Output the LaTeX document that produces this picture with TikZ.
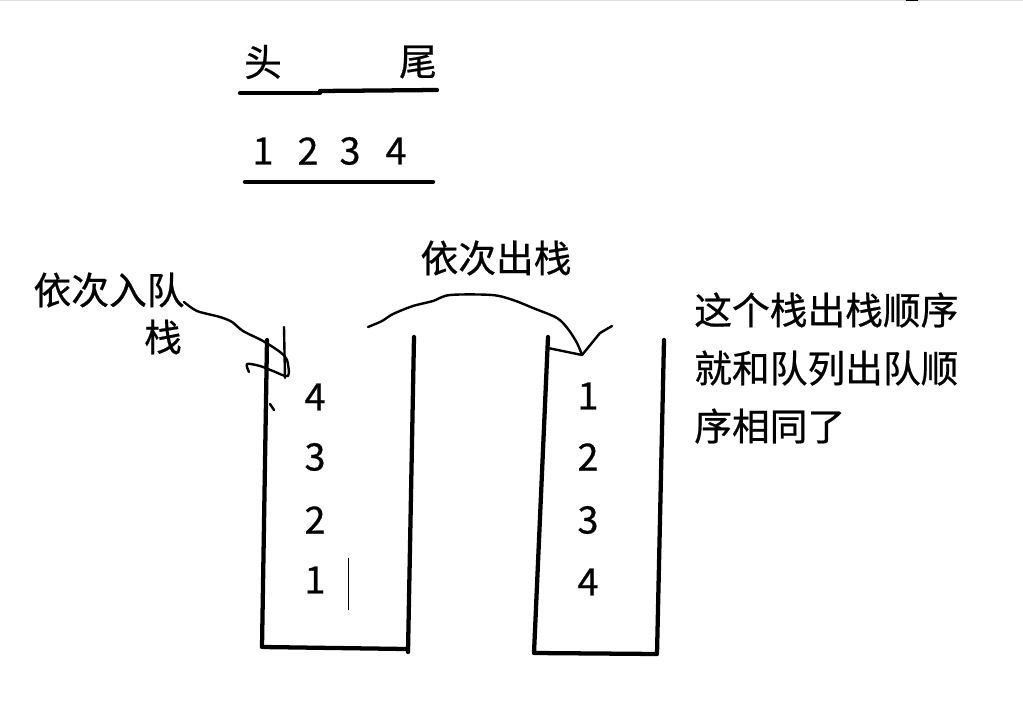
\documentclass[tikz,border=0pt]{standalone}
\usepackage{fontspec}
\setmainfont{Noto Sans CJK SC}[FakeBold=0.6]
\usetikzlibrary{positioning}

\begin{document}
\begin{tikzpicture}[
    x=0.75pt, y=-0.75pt,
    lbl/.style={font=\fontsize{28.3}{43.5}\selectfont, inner sep=0pt, align=left},
    num/.style={font=\fontsize{28.3}{33}\selectfont, inner sep=0pt},
    wall/.style={line width=3.2pt, line cap=round, line join=round},
    bar/.style={line width=3.2pt, line cap=round},
    pen/.style={line width=1.8pt, line cap=round, line join=round}
]
\useasboundingbox (0,0) rectangle (1023,712);
\draw[black!12, line width=1.5pt] (0,0) -- (1023,0);
\draw[line width=2pt] (906,0) -- (918,0);

% queue
\node[lbl] (head) at (263,62) {头};
\node[lbl] (tail) at (418,62) {尾};
\draw[bar] (240,93) -- (320,93);
\draw[bar] (320,91) -- (437,90);
\node[num] (q1) at (263,151) {1};
\node[num] (q2) at (308,151) {2};
\node[num] (q3) at (350,151) {3};
\node[num] (q4) at (396,151) {4};
\draw[bar] (245,182) -- (433,182);

% labels
\node[lbl] (push) at (109,290) {依次入队};
\node[lbl] (pushb) at (163,337) {栈};
\node[lbl] (pop) at (496,258) {依次出栈};
\node[lbl, anchor=west] (note) at (694,368) {这个栈出栈顺序\\就和队列出队顺\\序相同了};

% left stack
\coordinate (ltl) at (267,340);
\coordinate (lbl) at (262,647);
\coordinate (lbr) at (406,649);
\coordinate (ltr) at (414,337);
\draw[wall] (ltl) -- (lbl) -- (lbr);
\draw[wall] (ltr) -- (408,652);
\node[num] (a4) at (315,397) {4};
\node[num] (a3) at (315,457) {3};
\node[num] (a2) at (315,520) {2};
\node[num] (a1) at (315,580) {1};
\draw[line width=0.7pt] (348,558) -- (348,610);

% right stack
\coordinate (rtl) at (548,337);
\coordinate (rbl) at (534,653);
\coordinate (rbr) at (657,654);
\coordinate (rtr) at (664,340);
\draw[wall] (rtl) -- (rbl) -- (rbr) -- (rtr);
\node[num] (b1) at (588,396) {1};
\node[num] (b2) at (588,457) {2};
\node[num] (b3) at (588,520) {3};
\node[num] (b4) at (588,582) {4};

% hand strokes
\draw[pen] plot[smooth, tension=0.5] coordinates {(184,302) (197,311) (220,317) (232,322) (243,331) (263,341) (280,352) (287,360) (288,376) (273,371) (260,366) (247,364) (249,372)};
\draw[pen] (284,327) -- (285,378);
\draw[pen] (270,404) -- (274,410);
\draw[pen] plot[smooth, tension=0.5] coordinates {(368,327) (382,321) (393,314) (413,306) (433,301) (450,295) (492,295) (513,300) (533,308) (557,318) (568,329) (577,343) (582,355)};
\draw[pen] (582,355) -- (600,333) -- (612,326);
\draw[pen] (548,348) -- (582,355);
\end{tikzpicture}
\end{document}
